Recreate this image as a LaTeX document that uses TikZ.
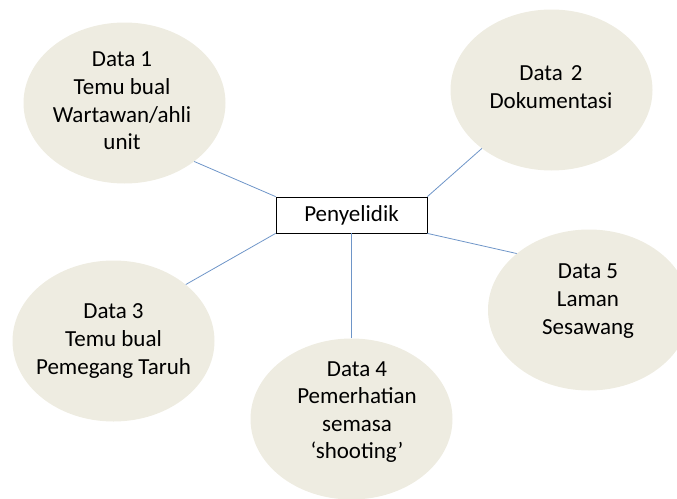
\documentclass[tikz,border=0pt]{standalone}
\usepackage{fontspec}
\setmainfont{Carlito}
\usetikzlibrary{shapes.geometric}
\definecolor{blobfill}{HTML}{EEECE1}
\definecolor{linkblue}{HTML}{6E95C8}
\tikzset{
  blob/.style={ellipse, fill=blobfill, draw=none, inner sep=0pt,
    minimum width=202pt, minimum height=161pt},
  blobtext/.style={align=center, inner sep=0pt,
    font=\fontsize{23}{27.6}\selectfont},
  hub/.style={rectangle, draw=black, line width=0.8pt, fill=white,
    minimum width=151pt, minimum height=36pt, inner sep=0pt,
    font=\fontsize{23}{26}\selectfont},
  link/.style={draw=linkblue, line width=0.8pt}
}
\begin{document}
\begin{tikzpicture}[x=1pt, y=-1pt]
  \useasboundingbox (0,0) rectangle (677,498);
  \clip (0,0) rectangle (677,498);

  % outer data sources
  \node[blob] (e1) at (124.5,103) {};
  \node[blob] (e2) at (551.5,90) {};
  \node[blob] (e3) at (113.5,341) {};
  \node[blob] (e4) at (351.5,419) {};
  \node[blob] (e5) at (589,310) {};

  % central researcher box
  \node[hub] (hub) at (351.5,215) {Penyelidik};

  % connectors
  \draw[link] (e1.-40.4) -- (hub.north west);
  \draw[link] (e2.-140.6) -- (hub.north east);
  \draw[link] (e3.38.5) -- (hub.south west);
  \draw[link] (e4.north) -- (hub.south);
  \draw[link] (e5.142.6) -- (hub.south east);

  % labels
  \node[blobtext] (t1) at (122,101) {Data 1\\Temu bual\\Wartawan/ahli\\unit};
  \node[blobtext] (t2) at (551,87) {Data\kern3pt\ 2\\Dokumentasi};
  \node[blobtext] (t3) at (113.5,341) {Data 3\\Temu bual\\Pemegang Taruh};
  \node[blobtext] (t4) at (357,412) {Data 4\\Pemerhatian\\semasa\\‘shooting’};
  \node[blobtext] (t5) at (588,301) {Data 5\\Laman\\Sesawang};
\end{tikzpicture}
\end{document}
